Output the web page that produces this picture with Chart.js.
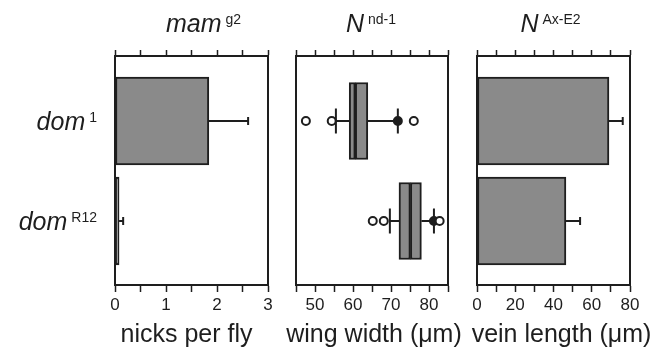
<!DOCTYPE html>
<html><head><meta charset="utf-8">
<script src="https://cdn.jsdelivr.net/npm/chart.js@4.4.1/dist/chart.umd.min.js"></script>
<style>
html,body{margin:0;padding:0;background:#fff;}
#wrap{position:relative;width:665px;height:350px;background:#fff;}
canvas{position:absolute;left:0;top:0;}
</style></head><body>
<div id="wrap">
<canvas id="c1" width="665" height="350"></canvas>
<canvas id="c2" width="665" height="350"></canvas>
<canvas id="c3" width="665" height="350"></canvas>
</div>
<script>
// ---------- data ----------
const categories = [0, 1];
const categoryNames = ['dom', 'dom'];
const categorySups = ['1', 'R12'];
const panelTitles = ['mam', 'N', 'N'];
const panelTitleSups = ['g2', 'nd-1', 'Ax-E2'];
const axisTitles = ['nicks per fly', 'wing width (μm)', 'vein length (μm)'];

const nicksMean = [1.84, 0.08];
const nicksErr = [0.77, 0.08];

const wingLowWhisker = [55.5, 69.7];
const wingQ1 = [59.0, 72.1];
const wingMedian = [60.6, 75.1];
const wingQ3 = [63.9, 78.0];
const wingHighWhisker = [71.8, 81.3];
const wingOutliers = [[47.6, 54.4, 71.8, 76.0], [65.2, 68.1, 81.3, 82.8]];

const veinMean = [69.0, 46.5];
const veinErr = [7.2, 7.4];

const nicksRange = [0, 3];
const wingRange = [45, 85];
const veinRange = [0, 80];
const nicksTickLabels = [0, 1, 2, 3];
const wingTickLabels = [50, 60, 70, 80];
const veinTickLabels = [0, 20, 40, 60, 80];

// ---------- style ----------
const FONT = "'Liberation Sans', Arial, Helvetica, sans-serif";
const INK = '#1e1e1e';
const BAR = '#8a8a8a';

function makeScales(range, step, labels) {
  const grid = (len) => ({display: true, drawOnChartArea: false, drawTicks: true, tickLength: len, tickWidth: 1.5, tickColor: INK, color: INK, offset: false});
  const yAxis = (pos) => ({
    type: 'linear', position: pos, min: -0.65, max: 1.64, reverse: true, offset: false,
    ticks: {display: false},
    grid: {display: true, drawOnChartArea: false, drawTicks: false, color: INK},
    border: {display: true, color: INK, width: 2},
    afterFit: (s) => { s.width = 0; }
  });
  return {
    x: {
      type: 'linear', position: 'bottom', min: range[0], max: range[1], offset: false,
      ticks: {stepSize: step, autoSkip: false, maxRotation: 0, padding: 3, color: INK,
        font: {family: FONT, size: 17},
        callback: (v) => labels.some(l => Math.abs(l - v) < 1e-6) ? String(Math.round(v)) : ''},
      grid: grid(7),
      border: {display: true, color: INK, width: 2},
      title: {display: false},
      afterFit: (s) => { s.height = 65; }
    },
    xTop: {
      type: 'linear', position: 'top', min: range[0], max: range[1], offset: false,
      ticks: {stepSize: step, autoSkip: false, display: false},
      grid: grid(6),
      border: {display: true, color: INK, width: 2},
      afterFit: (s) => { s.height = 6; }
    },
    y: yAxis('left'),
    y2: yAxis('right')
  };
}

function drawSup(ctx, x, baseline, main, sup, align, mainItalic) {
  ctx.save();
  ctx.fillStyle = INK;
  ctx.textBaseline = 'alphabetic';
  ctx.textAlign = 'left';
  const mf = (mainItalic ? 'italic ' : '') + '25px ' + FONT;
  const sf = '14px ' + FONT;
  ctx.font = mf; const wm = ctx.measureText(main).width;
  ctx.font = sf; const ws = ctx.measureText(sup).width;
  const gap = 4;
  const total = wm + gap + ws;
  const x0 = align === 'center' ? x - total / 2 : x - total;
  ctx.font = mf; ctx.fillText(main, x0, baseline);
  ctx.font = sf; ctx.fillText(sup, x0 + wm + gap, baseline - 8);
  ctx.restore();
}

function textPlugin(panelIndex, titleDx, axisTitleDx, withCategories) {
  return {
    id: 'texts' + panelIndex,
    afterDraw(chart) {
      const ctx = chart.ctx;
      const a = chart.chartArea;
      const cx = (a.left + a.right) / 2;
      drawSup(ctx, cx + titleDx, 32, panelTitles[panelIndex], panelTitleSups[panelIndex], 'center', true);
      // axis title (drawn here so it is not squeezed to the axis width)
      ctx.save();
      ctx.fillStyle = INK;
      ctx.font = '25px ' + FONT;
      ctx.textAlign = 'center';
      ctx.textBaseline = 'alphabetic';
      ctx.fillText(axisTitles[panelIndex], cx + axisTitleDx, a.bottom + 57);
      ctx.restore();
      if (withCategories) {
        const ys = chart.scales.y;
        categories.forEach(i => {
          drawSup(ctx, a.left - 18, ys.getPixelForValue(i) + 9, categoryNames[i], categorySups[i], 'right', true);
        });
      }
    }
  };
}

function barPanelDatasets(mean, err) {
  const ds = [];
  ds.push({
    type: 'bar', indexAxis: 'y', xAxisID: 'x', yAxisID: 'y',
    data: categories.map(i => ({x: mean[i], y: i})),
    backgroundColor: BAR, borderColor: INK, borderWidth: 2, borderSkipped: false,
    barThickness: 88, order: 3
  });
  categories.forEach(i => {
    ds.push({
      type: 'line', xAxisID: 'x', yAxisID: 'y',
      data: [{x: mean[i], y: i}, {x: mean[i] + err[i], y: i}],
      borderColor: INK, borderWidth: 2, pointRadius: 0, fill: false, order: 2
    });
  });
  ds.push({
    type: 'scatter', xAxisID: 'x', yAxisID: 'y',
    data: categories.map(i => ({x: mean[i] + err[i], y: i})),
    pointStyle: 'line', pointRotation: 90, pointRadius: 4, pointHoverRadius: 4,
    pointBorderColor: INK, pointBorderWidth: 2, order: 1
  });
  return ds;
}

function boxPanelDatasets() {
  const ds = [];
  ds.push({
    type: 'bar', indexAxis: 'y', grouped: false, xAxisID: 'x', yAxisID: 'y',
    data: categories.map(i => ({x: [wingQ1[i], wingMedian[i]], y: i})),
    backgroundColor: BAR, borderColor: INK, borderWidth: 2, borderSkipped: false,
    barThickness: 77, order: 3
  });
  ds.push({
    type: 'bar', indexAxis: 'y', grouped: false, xAxisID: 'x', yAxisID: 'y',
    data: categories.map(i => ({x: [wingMedian[i], wingQ3[i]], y: i})),
    backgroundColor: BAR, borderColor: INK, borderWidth: 2, borderSkipped: false,
    barThickness: 77, order: 3
  });
  categories.forEach(i => {
    ds.push({
      type: 'line', xAxisID: 'x', yAxisID: 'y',
      data: [{x: wingLowWhisker[i], y: i}, {x: wingQ1[i], y: i}],
      borderColor: INK, borderWidth: 2, pointRadius: 0, fill: false, order: 4
    });
    ds.push({
      type: 'line', xAxisID: 'x', yAxisID: 'y',
      data: [{x: wingQ3[i], y: i}, {x: wingHighWhisker[i], y: i}],
      borderColor: INK, borderWidth: 2, pointRadius: 0, fill: false, order: 4
    });
  });
  const outlierPts = categories.flatMap(i => wingOutliers[i].map(v => ({x: v, y: i})));
  ds.push({
    type: 'scatter', xAxisID: 'x', yAxisID: 'y',
    data: outlierPts,
    pointStyle: 'circle', pointRadius: 4, pointHoverRadius: 4,
    // an outlier sitting on a whisker cap looks filled in the reference
    pointBackgroundColor: (c) => {
      const p = outlierPts[c.dataIndex];
      return p && (Math.abs(p.x - wingHighWhisker[p.y]) < 0.05 || Math.abs(p.x - wingLowWhisker[p.y]) < 0.05) ? INK : '#ffffff';
    },
    pointBorderColor: INK, pointBorderWidth: 2, order: 2
  });
  ds.push({
    type: 'scatter', xAxisID: 'x', yAxisID: 'y',
    data: categories.flatMap(i => [{x: wingLowWhisker[i], y: i}, {x: wingHighWhisker[i], y: i}]),
    pointStyle: 'line', pointRotation: 90, pointRadius: 12.5, pointHoverRadius: 12.5,
    pointBorderColor: INK, pointBorderWidth: 2, order: 1
  });
  return ds;
}

function makeChart(id, datasets, scales, padding, plugin) {
  return new Chart(document.getElementById(id), {
    type: 'scatter',
    data: {datasets},
    options: {
      responsive: false, animation: false, events: [],
      layout: {padding},
      plugins: {legend: {display: false}, tooltip: {enabled: false}},
      scales
    },
    plugins: [plugin]
  });
}

const W = 665;
makeChart('c1', barPanelDatasets(nicksMean, nicksErr), makeScales(nicksRange, 0.5, nicksTickLabels),
  {left: 115, right: W - 268, top: 50, bottom: 0}, textPlugin(0, 12, -5, true));
makeChart('c2', boxPanelDatasets(), makeScales(wingRange, 5, wingTickLabels),
  {left: 296, right: W - 448, top: 50, bottom: 0}, textPlugin(1, -1, 2, false));
makeChart('c3', barPanelDatasets(veinMean, veinErr), makeScales(veinRange, 10, veinTickLabels),
  {left: 477, right: W - 630, top: 50, bottom: 0}, textPlugin(2, -3, 8, false));
</script>
</body></html>
